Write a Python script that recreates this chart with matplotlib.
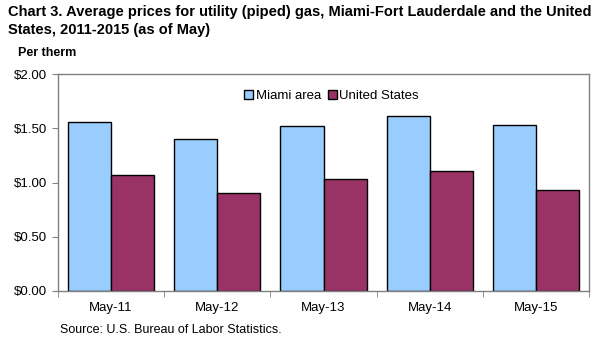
#!/usr/bin/env python3
"""
Chart 3: average prices for utility (piped) gas, Miami area vs United States,
May 2011-2015. Saves out.png.
"""

import numpy as np
import matplotlib.pyplot as plt

categories = ["May-11", "May-12", "May-13", "May-14", "May-15"]
miami = [1.56, 1.40, 1.52, 1.61, 1.53]
united_states = [1.07, 0.90, 1.03, 1.11, 0.93]
y_ticks = [0.0, 0.5, 1.0, 1.5, 2.0]
y_labels = ["$0.00", "$0.50", "$1.00", "$1.50", "$2.00"]


def main():
    plt.rcParams["font.family"] = ["Liberation Sans", "DejaVu Sans"]

    fig = plt.figure(figsize=(6.08, 3.46), dpi=100)
    # plot area in pixels: x 58..589, y 74..291
    ax = fig.add_axes([58 / 608, 1 - 291 / 346, 531 / 608, 217 / 346])

    x = np.arange(len(categories))
    w = 0.405
    ax.bar(x - w / 2, miami, width=w, color="#99CCFF", edgecolor="black",
           linewidth=1.0, label="Miami area")
    ax.bar(x + w / 2, united_states, width=w, color="#993366", edgecolor="black",
           linewidth=1.0, label="United States")

    ax.set_xlim(-0.5, len(categories) - 0.5)
    ax.set_ylim(0, 2.0)
    ax.set_yticks(y_ticks)
    ax.set_yticklabels(y_labels, fontsize=9.5)
    ax.set_xticks(x)
    ax.set_xticklabels(categories, fontsize=9.5)
    ax.set_xticks(np.arange(len(categories) + 1) - 0.5, minor=True)
    ax.tick_params(axis="x", which="major", length=0, pad=8)
    ax.tick_params(axis="x", which="minor", length=4, color="#808080")
    ax.tick_params(axis="y", length=4, color="#808080", pad=4)

    for s in ax.spines.values():
        s.set_color("#808080")
        s.set_linewidth(1.0)

    ax.legend(loc="upper center", bbox_to_anchor=(0.515, 0.95), ncol=2,
              frameon=False, fontsize=9.5, handlelength=0.7, handleheight=0.7,
              handletextpad=0.2, columnspacing=0.5, borderaxespad=0)

    fig.text(8 / 608, 1 - 5 / 346,
             "Chart 3. Average prices for utility (piped) gas, Miami-Fort Lauderdale and the United\n"
             "States, 2011-2015 (as of May)",
             fontsize=10.5, fontweight="bold", va="top", ha="left", linespacing=1.4)
    fig.text(18 / 608, 1 - 53 / 346, "Per therm", fontsize=9, fontweight="bold",
             va="center", ha="left")
    fig.text(60 / 608, 1 - 330 / 346, "Source: U.S. Bureau of Labor Statistics.",
             fontsize=9, va="center", ha="left")

    fig.savefig("out.png", dpi=100)


if __name__ == "__main__":
    main()
